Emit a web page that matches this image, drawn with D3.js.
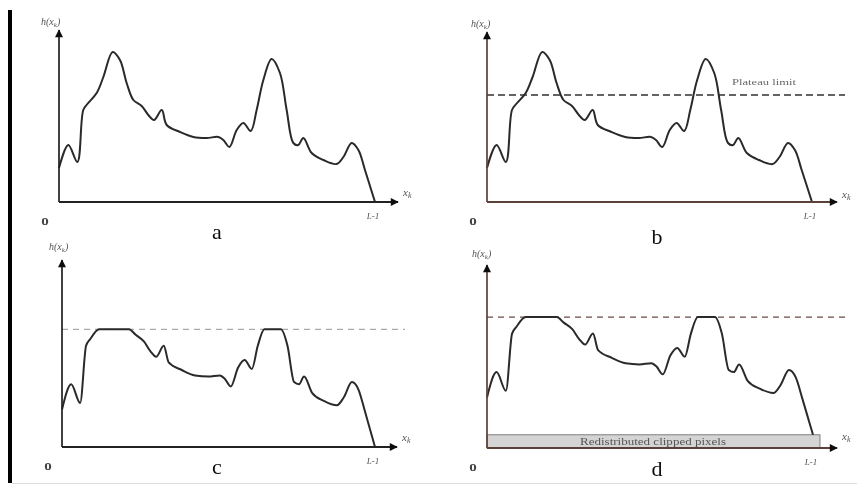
<!DOCTYPE html>
<html>
<head>
<meta charset="utf-8">
<script src="https://cdn.jsdelivr.net/npm/d3@7"></script>
<style>
  body { margin: 0; background: #fff; }
  svg { display: block; }
  text { font-family: "Liberation Serif", "DejaVu Serif", serif; }
</style>
</head>
<body>
<div id="chart"></div>
<script>
// grey level (0 .. L-1) and histogram height
var grayLevels = [0, 7.5, 14.8, 19.6, 22.9, 30.4, 35.8, 43.3, 49.2, 54.6, 60, 66.7, 72.1, 76.7, 82.9, 86.9,
  97.6, 108.4, 119.2, 128.6, 132.6, 137.5, 143.4, 148.8, 154.7, 159.5, 164.9, 171.6, 178.3, 183.7,
  189.1, 193.1, 197.2, 203.9, 213.3, 224.1, 229.5, 236.2, 241.6, 246.9, 255];
var histCounts = [34, 57, 40, 92, 98, 109, 125, 150, 142, 119, 102, 96, 87, 82, 92, 77,
  70, 65, 64, 65, 62, 55, 72, 79, 71, 92, 122, 143, 129, 92,
  59, 57, 64, 49, 42, 38, 45, 59, 52, 32, 0];
var clipLimit = 107;
var redistributed = 12;
var panelLetters = ["a", "b", "c", "d"];
var labelTexts = { y: "h(x", x: "x", sub: "k", end: "L-1", origin: "o" };
var plateauText = "Plateau limit";
var bandText = "Redistributed clipped pixels";

var width = 857, height = 485;
var svg = d3.select("#chart").append("svg").attr("width", width).attr("height", height);

var defs = svg.append("defs");
defs.append("filter").attr("id", "soft")
  .append("feGaussianBlur").attr("stdDeviation", 0.55);
defs.append("marker").attr("id", "arrow").attr("viewBox", "0 0 10 10")
  .attr("refX", 9).attr("refY", 5).attr("markerWidth", 10).attr("markerHeight", 8)
  .attr("markerUnits", "userSpaceOnUse").attr("orient", "auto")
  .append("path").attr("d", "M0,0 L10,5 L0,10 z").attr("fill", "#111");

var root = svg.append("g").attr("filter", "url(#soft)");

// left black border and bottom rule
root.append("rect").attr("x", 8).attr("y", 10).attr("width", 4).attr("height", 473).attr("fill", "#000");
root.append("line").attr("x1", 12).attr("x2", 857).attr("y1", 483.5).attr("y2", 483.5)
  .attr("stroke", "#ddd").attr("stroke-width", 1);

var panels = [
  { x0: 59, xL: 375, xTip: 398, y0: 202, yTop: 30, k: 1.0, axis: "#222", letter: [158, 37], xk: [5, -6], hy: [-18, -5] },
  { x0: 487, xL: 812, xTip: 837, y0: 202, yTop: 32, k: 1.0, axis: "#5a4038", letter: [170, 42], xk: [5, -4], hy: [-16, -5], plateau: true },
  { x0: 62, xL: 375, xTip: 397, y0: 447, yTop: 260, k: 1.1, axis: "#222", letter: [155, 27], xk: [5, -6], hy: [-13, -10], clip: true, dash: "#aaa" },
  { x0: 487, xL: 813, xTip: 837, y0: 448, yTop: 265, k: 1.1, axis: "#5a4038", letter: [170, 28], xk: [5, -8], hy: [-15, -8], clip: true, band: true, dash: "#6a4a40" }
];

var rows = grayLevels.map(function (g, i) { return { g: g, h: histCounts[i] }; });

panels.forEach(function (p, i) {
  var g = root.append("g");
  var x = d3.scaleLinear().domain([0, 255]).range([p.x0, p.xL]);
  var y = d3.scaleLinear().domain([0, (p.y0 - p.yTop) / p.k]).range([p.y0, p.yTop]);
  var lift = p.band ? redistributed : 0;

  // redistributed band
  if (p.band) {
    g.append("rect")
      .attr("x", x(0)).attr("y", y(redistributed))
      .attr("width", x(255) - x(0) + 7).attr("height", y(0) - y(redistributed))
      .attr("fill", "#d4d4d4").attr("stroke", "#666").attr("stroke-width", 0.8);
    g.append("text")
      .attr("x", (x(0) + x(255)) / 2 + 3).attr("y", y(redistributed / 2) + 3.5)
      .attr("text-anchor", "middle").attr("font-size", 10).attr("fill", "#555")
      .attr("textLength", 146).attr("lengthAdjust", "spacingAndGlyphs")
      .text(bandText);
  }

  // clip / plateau line
  if (p.plateau || p.clip) {
    g.append("line")
      .attr("x1", x(0)).attr("x2", p.xTip + 8)
      .attr("y1", y(clipLimit + lift)).attr("y2", y(clipLimit + lift))
      .attr("stroke", p.plateau ? "#333" : p.dash).attr("stroke-width", p.plateau ? 1.6 : 1.2)
      .attr("stroke-dasharray", p.plateau ? "7,4" : "6,5");
  }
  if (p.plateau) {
    g.append("text")
      .attr("x", 732).attr("y", y(clipLimit) - 10)
      .attr("font-size", 9).attr("fill", "#666")
      .attr("textLength", 64).attr("lengthAdjust", "spacingAndGlyphs")
      .text(plateauText);
  }

  // histogram curve
  var line = d3.line()
    .x(function (d) { return x(d.g); })
    .y(function (d) { return y((p.clip ? Math.min(d.h, clipLimit) : d.h) + lift); })
    .curve(p.clip ? d3.curveMonotoneX : d3.curveCatmullRom.alpha(0.5));
  g.append("path").datum(rows)
    .attr("d", line).attr("fill", "none")
    .attr("stroke", "#2a2a2a").attr("stroke-width", 2).attr("stroke-linejoin", "round");

  // axes with arrows
  g.append("line").attr("x1", p.x0).attr("y1", p.y0).attr("x2", p.x0).attr("y2", p.yTop)
    .attr("stroke", p.axis).attr("stroke-width", 1.7).attr("marker-end", "url(#arrow)");
  g.append("line").attr("x1", p.x0).attr("y1", p.y0).attr("x2", p.xTip).attr("y2", p.y0)
    .attr("stroke", p.axis).attr("stroke-width", 2.2).attr("marker-end", "url(#arrow)");

  // labels
  var hy = g.append("text").attr("x", p.x0 + p.hy[0]).attr("y", p.yTop + p.hy[1])
    .attr("font-size", 10).attr("font-style", "italic").attr("fill", "#555");
  hy.append("tspan").text(labelTexts.y);
  hy.append("tspan").attr("font-size", 7).attr("dy", 2).text(labelTexts.sub);
  hy.append("tspan").attr("dy", -2).text(")");

  var xk = g.append("text").attr("x", p.xTip + p.xk[0]).attr("y", p.y0 + p.xk[1])
    .attr("font-size", 11).attr("font-style", "italic").attr("fill", "#555");
  xk.append("tspan").text(labelTexts.x);
  xk.append("tspan").attr("font-size", 8).attr("dy", 2).text(labelTexts.sub);

  g.append("text").attr("x", x(255) - 2).attr("y", p.y0 + 17)
    .attr("text-anchor", "middle").attr("font-size", 9).attr("font-style", "italic").attr("fill", "#555")
    .text(labelTexts.end);

  g.append("text").attr("x", p.x0 - 14).attr("y", p.y0 + 23)
    .attr("text-anchor", "middle").attr("font-size", 15).attr("font-weight", "bold").attr("fill", "#444")
    .text(labelTexts.origin);

  g.append("text").attr("x", p.x0 + p.letter[0]).attr("y", p.y0 + p.letter[1])
    .attr("text-anchor", "middle").attr("font-size", 22).attr("fill", "#111")
    .text(panelLetters[i]);
});
</script>
</body>
</html>
